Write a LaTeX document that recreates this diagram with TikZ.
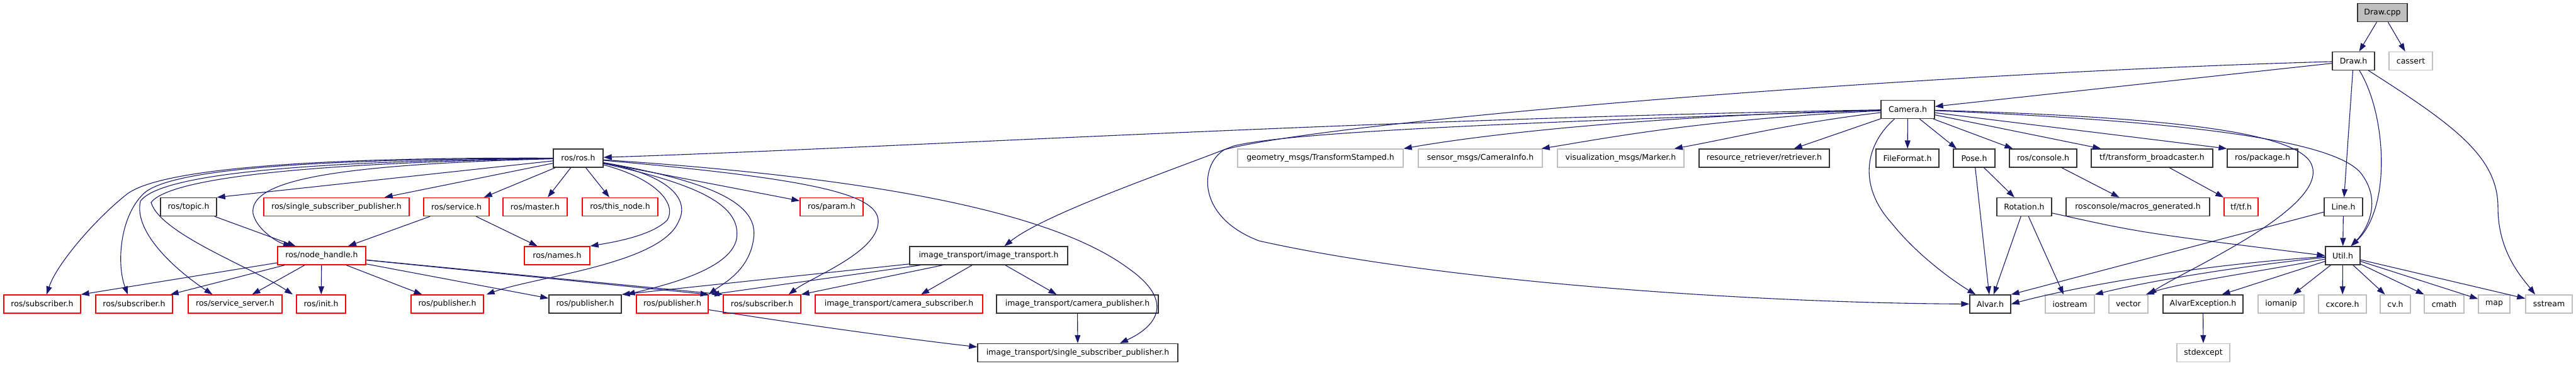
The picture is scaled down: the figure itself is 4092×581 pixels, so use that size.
\documentclass[tikz,border=0pt]{standalone}
\usepackage{fontspec}
\newfontfamily\dvfont{DejaVu Sans}
\usetikzlibrary{arrows.meta,calc}
\definecolor{edgec}{HTML}{191970}
\definecolor{grayb}{HTML}{BFBFBF}
\begin{document}
\begin{tikzpicture}[x=1pt,y=-1pt,
  box/.style={draw=black!80, line width=1.4pt, fill=white, minimum height=29pt, inner sep=0pt, font=\dvfont\fontsize{12.5}{14}\selectfont, text=black},
  redbox/.style={box, draw=red},
  sysbox/.style={box, draw=grayb},
  rootbox/.style={box, fill=grayb},
  dep/.style={draw=edgec, line width=1.1pt, -{Triangle[length=13pt,width=9pt]}}]
\useasboundingbox (0,0) rectangle (4092,581);
% row 1-3
\node[rootbox, minimum width=79pt] (drawcpp) at (3784.5,20) {Draw.cpp};
\node[box, minimum width=67pt] (drawh) at (3738.5,97) {Draw.h};
\node[sysbox, minimum width=69pt] (cassert) at (3829.5,97) {cassert};
\node[box, minimum width=85pt] (camera) at (3030.5,174) {Camera.h};
% row 4
\node[box, minimum width=79pt] (rosros) at (918.5,251.5) {ros/ros.h};
\node[sysbox, minimum width=263pt] (geom) at (2097.5,251.5) {geometry\_msgs/TransformStamped.h};
\node[sysbox, minimum width=197pt] (sensor) at (2351.5,251.5) {sensor\_msgs/CameraInfo.h};
\node[sysbox, minimum width=201pt] (vis) at (2574.5,251.5) {visualization\_msgs/Marker.h};
\node[box, minimum width=207pt] (retr) at (2802.5,251.5) {resource\_retriever/retriever.h};
\node[box, minimum width=100pt] (fileformat) at (3030,251.5) {FileFormat.h};
\node[box, minimum width=66pt] (pose) at (3136,251.5) {Pose.h};
\node[box, minimum width=107pt] (console) at (3245.5,251.5) {ros/console.h};
\node[box, minimum width=193pt] (tfb) at (3418.5,251.5) {tf/transform\_broadcaster.h};
\node[box, minimum width=112pt] (package) at (3594,251.5) {ros/package.h};
% row 5
\node[box, minimum width=89pt] (topic) at (299.5,329) {ros/topic.h};
\node[redbox, minimum width=231pt] (ssp) at (534.5,329) {ros/single\_subscriber\_publisher.h};
\node[redbox, minimum width=104pt] (service) at (725,329) {ros/service.h};
\node[redbox, minimum width=102pt] (master) at (850,329) {ros/master.h};
\node[redbox, minimum width=120pt] (thisnode) at (985,329) {ros/this\_node.h};
\node[redbox, minimum width=100pt] (param) at (1321,329) {ros/param.h};
\node[box, minimum width=87pt] (rotation) at (3215.5,329) {Rotation.h};
\node[box, minimum width=228pt] (macros) at (3396,329) {rosconsole/macros\_generated.h};
\node[redbox, minimum width=54pt] (tftf) at (3560,329) {tf/tf.h};
\node[box, minimum width=61pt] (line) at (3722.5,329) {Line.h};
% row 6
\node[redbox, minimum width=140pt] (nodehandle) at (511,406.5) {ros/node\_handle.h};
\node[redbox, minimum width=104pt] (names) at (885,406.5) {ros/names.h};
\node[box, minimum width=251pt] (itrans) at (1570.5,406.5) {image\_transport/image\_transport.h};
\node[box, minimum width=55pt] (util) at (3721.5,406.5) {Util.h};
% row 7
\node[redbox, minimum width=122pt] (sub1) at (67,483.5) {ros/subscriber.h};
\node[redbox, minimum width=122pt] (sub2) at (213,483.5) {ros/subscriber.h};
\node[redbox, minimum width=149pt] (srvserver) at (373.5,483.5) {ros/service\_server.h};
\node[redbox, minimum width=78pt] (init) at (510,483.5) {ros/init.h};
\node[redbox, minimum width=115pt] (pub1) at (710.5,483.5) {ros/publisher.h};
\node[box, minimum width=115pt] (pubB) at (929.5,483.5) {ros/publisher.h};
\node[redbox, minimum width=114pt] (pub3) at (1068,483.5) {ros/publisher.h};
\node[redbox, minimum width=123pt] (sub3) at (1210.5,483.5) {ros/subscriber.h};
\node[redbox, minimum width=266pt] (camsub) at (1428,483.5) {image\_transport/camera\_subscriber.h};
\node[box, minimum width=257pt] (campub) at (1711.5,483.5) {image\_transport/camera\_publisher.h};
\node[box, minimum width=65pt] (alvar) at (3161.5,483.5) {Alvar.h};
\node[sysbox, minimum width=78pt] (iostream) at (3288,483.5) {iostream};
\node[sysbox, minimum width=62pt] (vector) at (3381,483.5) {vector};
\node[box, minimum width=127pt] (alvarexc) at (3499.5,483.5) {AlvarException.h};
\node[sysbox, minimum width=73pt] (iomanip) at (3623.5,483.5) {iomanip};
\node[sysbox, minimum width=76pt] (cxcore) at (3721,483.5) {cxcore.h};
\node[sysbox, minimum width=48pt] (cvh) at (3805,483.5) {cv.h};
\node[sysbox, minimum width=63pt] (cmath) at (3882.5,483.5) {cmath};
\node[sysbox, minimum width=50pt] (map) at (3962,483.5) {map};
\node[sysbox, minimum width=74pt] (sstream) at (4049,483.5) {sstream};
% row 8
\node[box, minimum width=318pt] (itssp) at (1712,561) {image\_transport/single\_subscriber\_publisher.h};
\node[sysbox, minimum width=84pt] (stdexcept) at (3500,561) {stdexcept};

% ---- edges ----
\draw[dep] (drawcpp) -- (drawh);
\draw[dep] (drawcpp) -- (cassert);
\draw[dep] (drawh) -- (camera);
\draw[dep] (drawh) -- (line);
\draw[dep] (drawh) .. controls (3790,180) and (3800,330) .. ($(util.north)+(13,0)$);
\draw[dep] (drawh) .. controls (3900,200) and (3968,250) .. (3968,330) .. controls (3968,400) and (4005,440) .. ($(sstream.north)+(-22,0)$);
\draw[dep] (drawh) .. controls (3000,118) and (2100,195) .. (1945,238) .. controls (1905,262) and (1900,345) .. (2000,383) .. controls (2300,450) and (2800,482) .. (alvar);

\draw[dep] (camera) .. controls (2200,188) and (1400,236) .. (rosros);
\draw[dep] (camera) .. controls (2400,195) and (2050,210) .. (1960,232) .. controls (1850,275) and (1660,340) .. ($(itrans.north)+(25,0)$);
\draw[dep] (camera) .. controls (2600,185) and (2350,215) .. (geom.north east);
\draw[dep] (camera) .. controls (2700,190) and (2550,220) .. ($(sensor.north east)+(-2,0)$);
\draw[dep] (camera) .. controls (2850,195) and (2750,220) .. ($(vis.north east)+(-16,0)$);
\draw[dep] (camera) -- ($(retr.north east)+(-57,0)$);
\draw[dep] (camera) -- (fileformat);
\draw[dep] (camera) -- ($(pose.north)+(-28,0)$);
\draw[dep] (camera) -- ($(console.north west)+(6,0)$);
\draw[dep] (camera) -- ($(tfb.north west)+(16,0)$);
\draw[dep] (camera) -- (package.north west);
\draw[dep] (camera) .. controls (3400,190) and (3700,215) .. (3750,275) .. controls (3785,320) and (3760,365) .. ($(util.north)+(13,0)$);
\draw[dep] (camera) .. controls (3400,185) and (3650,205) .. (3672,262) .. controls (3700,330) and (3470,430) .. (vector.north east);
\draw[dep] ($(camera.south west)+(22,0)$) .. controls (2958,235) and (2955,300) .. (3005,355) .. controls (3045,405) and (3100,445) .. ($(alvar.north west)+(10,0)$);

\draw[dep] (pose) -- (rotation);
\draw[dep] (pose) -- (alvar);
\draw[dep] (rotation) -- (alvar);
\draw[dep] (rotation) -- ($(iostream.north)+(-10,0)$);
\draw[dep] (rotation) .. controls (3400,370) .. (util.west);
\draw[dep] (console) -- (macros);
\draw[dep] (tfb) -- (tftf);
\draw[dep] (line) -- (util);
\draw[dep] (line) -- (alvar.north east);
\draw[dep] (util) .. controls (3500,420) and (3300,455) .. (alvar.east);
\draw[dep] (util) .. controls (3540,425) and (3400,450) .. (iostream.north east);
\draw[dep] (util) .. controls (3600,430) and (3460,450) .. ($(vector.north east)+(-4,0)$);
\draw[dep] (util) -- ($(alvarexc.north)+(30,0)$);
\draw[dep] (util) -- (iomanip);
\draw[dep] (util) -- (cxcore);
\draw[dep] (util) -- (cvh);
\draw[dep] (util) -- (cmath);
\draw[dep] (util) -- (map);
\draw[dep] (util) -- (sstream);
\draw[dep] (alvarexc) -- (stdexcept);

% ros/ros.h fan
\draw[dep] (rosros) -- (topic.north east);
\draw[dep] (rosros) -- ($(ssp.north east)+(-40,0)$);
\draw[dep] (rosros) -- ($(service.north east)+(-9,0)$);
\draw[dep] (rosros) -- ($(master.north)+(20,0)$);
\draw[dep] (rosros) -- ($(thisnode.north)+(-17,0)$);
\draw[dep] (rosros) -- (param);
\draw[dep] (rosros) .. controls (520,262) and (395,288) .. (402,340) .. controls (408,365) and (440,385) .. ($(nodehandle.north)+(-48,0)$);
\draw[dep] (rosros) .. controls (500,250) and (250,268) .. (200,310) .. controls (150,350) and (90,420) .. ($(sub1.north)+(7,0)$);
\draw[dep] (rosros) .. controls (500,253) and (270,268) .. (228,308) .. controls (190,345) and (185,420) .. ($(sub2.north)+(-10,0)$);
\draw[dep] (rosros) .. controls (500,256) and (255,275) .. (223,320) .. controls (212,370) and (280,430) .. ($(srvserver.north)+(-36,0)$);
\draw[dep] (rosros) .. controls (500,259) and (270,282) .. (240,322) .. controls (255,372) and (400,425) .. ($(init.north)+(-45,0)$);
\draw[dep] (rosros) .. controls (1045,285) and (1075,325) .. (1060,350) .. controls (1035,375) and (975,385) .. (names.north east);
\draw[dep] (rosros) .. controls (1070,280) and (1095,320) .. (1078,352) .. controls (1050,420) and (850,440) .. ($(pub1.north east)+(4,0)$);
\draw[dep] (rosros) .. controls (1120,295) and (1178,330) .. (1170,380) .. controls (1160,430) and (1050,455) .. ($(pubB.north east)+(8,0)$);
\draw[dep] (rosros) .. controls (1150,292) and (1205,330) .. (1197,380) .. controls (1190,430) and (1150,450) .. (pub3.north east);
\draw[dep] (rosros) .. controls (1300,285) and (1392,310) .. (1395,350) .. controls (1398,400) and (1290,440) .. ($(sub3.north east)+(-20,0)$);
\draw[dep] (rosros) .. controls (1350,280) and (1660,330) .. (1790,425) .. controls (1870,480) and (1835,520) .. ($(itssp.north)+(67,0)$);

\draw[dep] (topic) -- (nodehandle);
\draw[dep] (service) -- (nodehandle);
\draw[dep] (service) -- (names);

% node_handle fan
\draw[dep] (nodehandle) -- (sub1.north east);
\draw[dep] (nodehandle) -- ($(sub2.north east)+(-4,0)$);
\draw[dep] (nodehandle) -- ($(srvserver.north)+(27,0)$);
\draw[dep] (nodehandle) -- (init);
\draw[dep] (nodehandle) -- ($(pub1.north)+(-40,0)$);
\draw[dep] (nodehandle) -- ($(pubB.north west)+(0,6)$);
\draw[dep] (nodehandle) -- (pub3.north east);
\draw[dep] (nodehandle) -- (sub3.north west);

% image_transport fan
\draw[dep] (itrans) -- (pubB.north east);
\draw[dep] (itrans) -- ($(pub3.north east)+(4,0)$);
\draw[dep] (itrans) -- (sub3.north east);
\draw[dep] (itrans) -- ($(camsub.north)+(35,0)$);
\draw[dep] (itrans) -- ($(campub.north)+(-33,0)$);
\draw[dep] (pub3) .. controls (1300,520) and (1450,540) .. ($(itssp.north west)+(0,6)$);
\draw[dep] (campub) -- (itssp);
\end{tikzpicture}
\end{document}
